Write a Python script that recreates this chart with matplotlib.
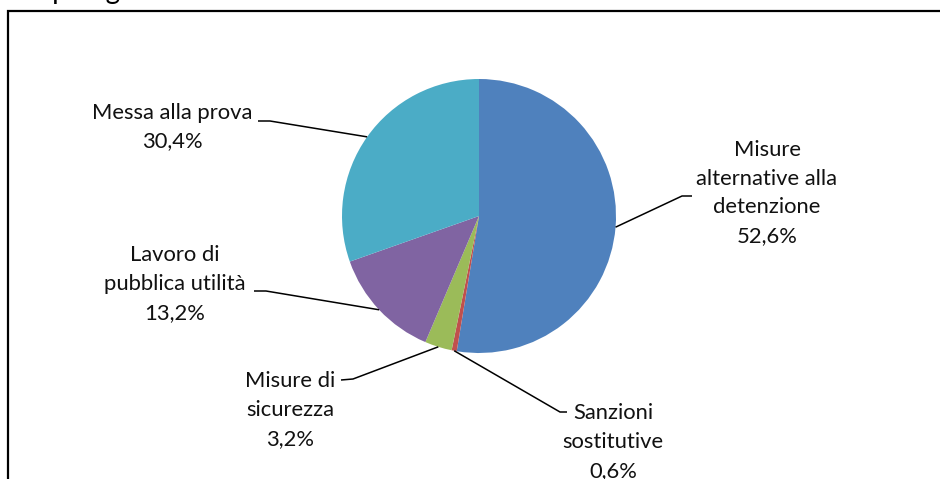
import numpy as np
import matplotlib.pyplot as plt

labels = ["Misure\nalternative alla\ndetenzione", "Sanzioni\nsostitutive",
          "Misure di\nsicurezza", "Lavoro di\npubblica utilità", "Messa alla prova"]
values = [52.6, 0.6, 3.2, 13.2, 30.4]
pct_text = ["52,6%", "0,6%", "3,2%", "13,2%", "30,4%"]
colors = ["#4F81BD", "#C0504D", "#9BBB59", "#8064A2", "#4BACC6"]

W, H = 940, 479
fig = plt.figure(figsize=(W / 100, H / 100), dpi=100)
ax = fig.add_axes([0, 0, 1, 1])

cx, cy, r = 479, H - 216, 137
wedges, _ = ax.pie(values, colors=colors, startangle=90, counterclock=False,
                   center=(cx, cy), radius=r, frame=True,
                   wedgeprops=dict(linewidth=0))
ax.set_xlim(0, W)
ax.set_ylim(0, H)
ax.axis("off")

# label layout (pixels from top-left): text centre, elbow, end of leader
layout = [
    ((767, 193), (682, 196), (692, 196)),
    ((613, 442), (560, 412), (567, 412)),
    ((290, 410), (353, 379), (341, 380)),
    ((175, 284), (266, 291), (254, 291)),
    ((172, 127), (270, 121), (258, 121)),
]

for w, lab, pct, (txt, elb, end) in zip(wedges, labels, pct_text, layout):
    mid = np.deg2rad((w.theta1 + w.theta2) / 2)
    px, py = cx + r * np.cos(mid), cy + r * np.sin(mid)
    ax.plot([px, elb[0], end[0]], [py, H - elb[1], H - end[1]],
            color="black", lw=1.1, solid_capstyle="butt")
    ax.text(txt[0], H - txt[1], lab + "\n" + pct, ha="center", va="center",
            multialignment="center", fontsize=15.8, family="Lato",
            linespacing=1.56, color="#111111")

# chart border (cut by the image edge)
ax.plot([8, 8, W + 5], [-5, H - 11, H - 11], color="black", lw=1.6,
        solid_joinstyle="miter")

# heading above, mostly cut off
fig.text(30 / W, 1 + 1 / H, "Tipologia", fontsize=20, family="Lato",
         va="baseline", ha="left")

fig.savefig("out.png", dpi=100)
